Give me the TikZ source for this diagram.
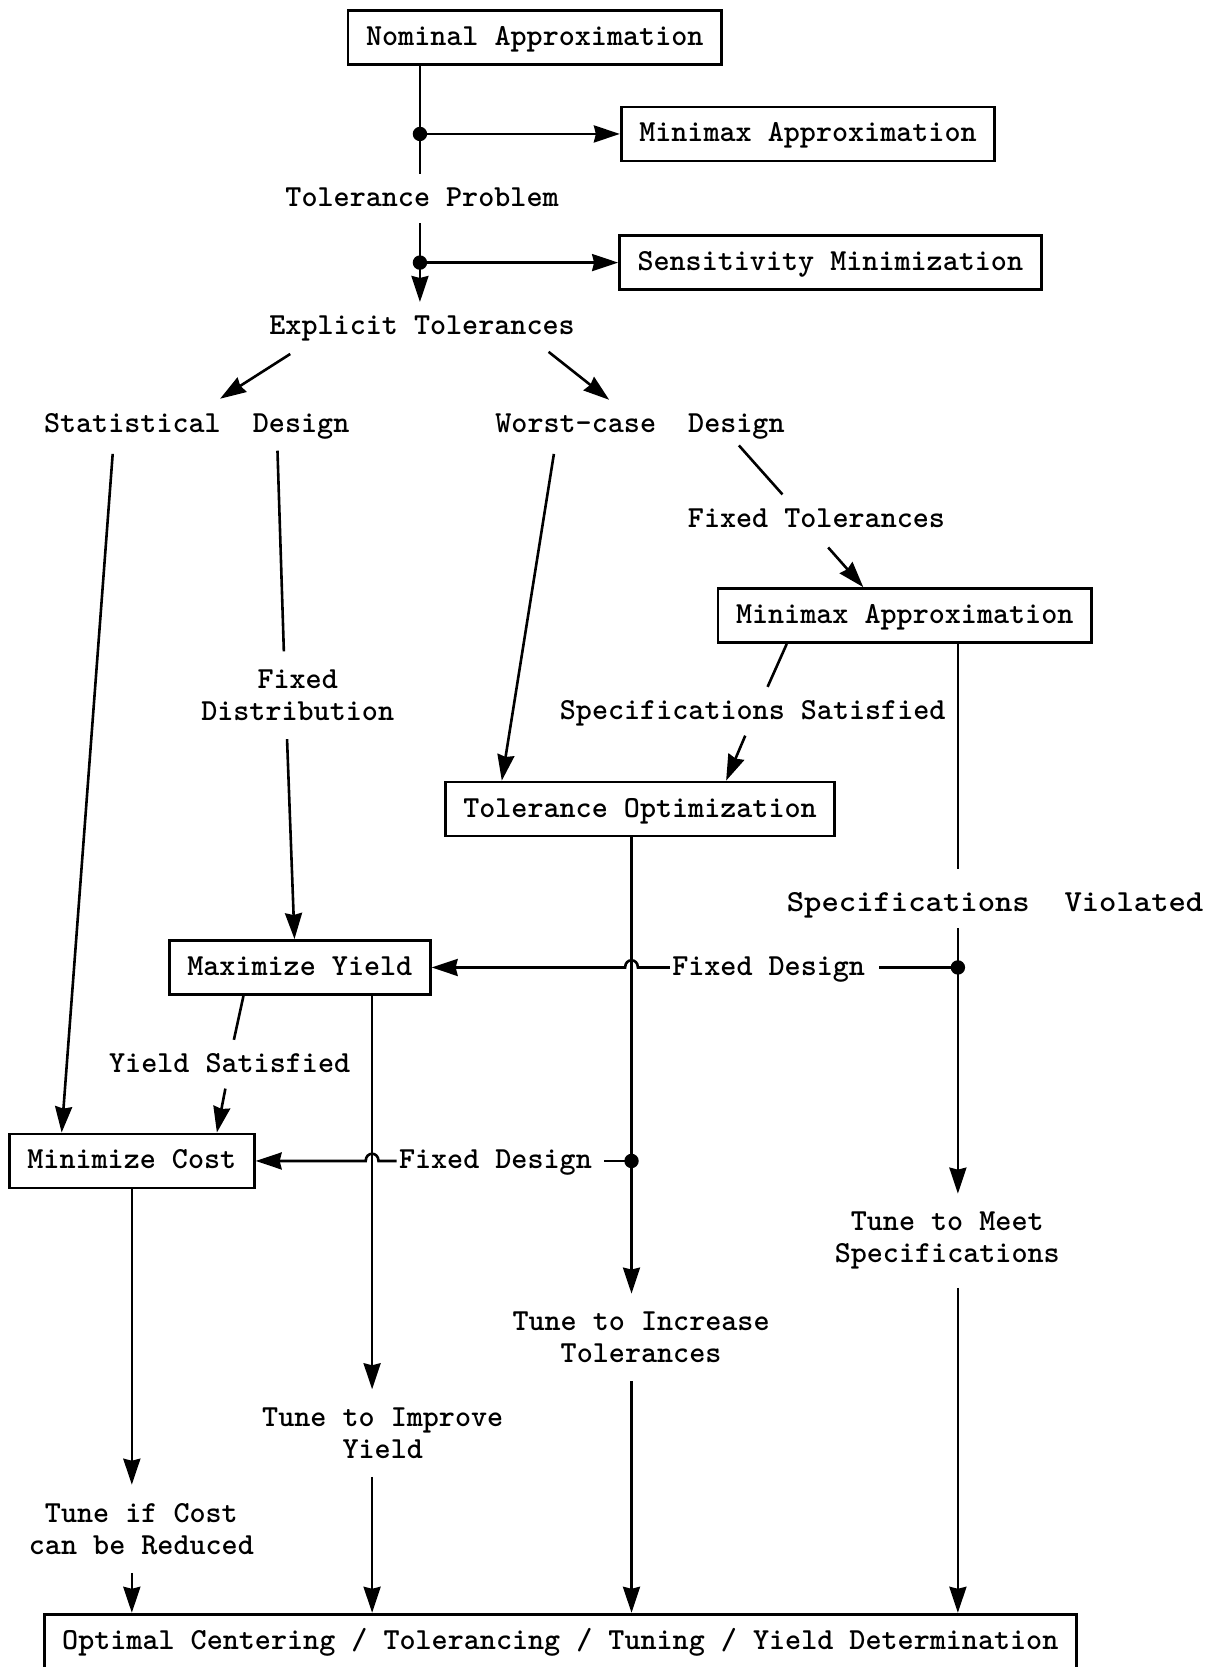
\documentclass[tikz,border=0pt]{standalone}
\usepackage{fontspec}
\newfontfamily\twfont{lmmonolt10-bold}[Extension=.otf]
\usetikzlibrary{arrows.meta,calc}

\tikzset{
	twtext/.style={font=\twfont\fontsize{15.3}{16}\selectfont},
	lbl/.style={twtext, inner xsep=5pt, inner ysep=6pt, text height=10pt, text depth=2pt},
	lbltwo/.style={twtext, align=center, inner xsep=4pt, inner ysep=9pt},
	box/.style={twtext, draw, line width=1.4pt, inner xsep=9pt, inner ysep=7.5pt, text height=10pt, text depth=2pt},
	link/.style={line width=1.3pt},
	arr/.style={link, -{Stealth[length=13pt,width=8.5pt,inset=1pt]}},
}

\begin{document}
\begin{tikzpicture}[x=0.5315pt, y=-0.5315pt]
	%%%%% START %%%%%
	\useasboundingbox (0,0) rectangle (1144,1568);
	\clip (0,0) rectangle (1144,1568);
	
	%%%%% boxes
	\node[box] (nominal) at (503,35) {Nominal Approximation};
	\node[box] (mmxA) at (760,126) {Minimax Approximation};
	\node[box] (sens) at (781,247) {Sensitivity Minimization};
	\node[box] (mmxB) at (851,579) {Minimax Approximation};
	\node[box] (tolopt) at (602,761) {Tolerance Optimization};
	\node[box] (maxyield) at (282,910) {Maximize Yield};
	\node[box] (mincost) at (124,1092) {Minimize Cost};
	\node[box, text depth=24pt, anchor=north] (final) at (527,1517) {Optimal Centering / Tolerancing / Tuning / Yield Determination};
	
	%%%%% labels
	\node[lbl] (tolprob) at (397,187) {Tolerance Problem};
	\node[lbl] (expl) at (397,307) {Explicit Tolerances};
	\node[lbl] (stat) at (185,399) {Statistical\ \ Design};
	\node[lbl] (worst) at (602,399) {Worst-case\ \ Design};
	\node[lbl] (fixtol) at (768,489) {Fixed Tolerances};
	\node[lbltwo] (fixdist) at (280,654) {Fixed\\Distribution};
	\node[lbl] (specsat) at (708,669) {Specifications Satisfied};
	\node[lbl] (specviol) at (936,850) {\scalebox{1.08}[1]{Specifications\ \ Violated}};
	\node[lbl, inner xsep=1pt] (fixdesA) at (723,910) {Fixed Design};
	\node[lbl] (yieldsat) at (216,1001) {Yield Satisfied};
	\node[lbl, inner xsep=1pt] (fixdesB) at (466,1092) {Fixed Design};
	\node[lbltwo] (tunemeet) at (891,1167) {Tune to Meet\\Specifications};
	\node[lbltwo] (tuneinc) at (603,1258) {Tune to Increase\\Tolerances};
	\node[lbltwo] (tuneimp) at (360,1348) {Tune to Improve\\Yield};
	\node[lbltwo] (tuneif) at (133,1438) {Tune if Cost\\can be Reduced};
	
	%%%%% junctions and hops
	\coordinate (dA) at (395,126);
	\coordinate (dB) at (395,247);
	\coordinate (dS) at (901,910);
	\coordinate (dT) at (594,1092);
	\coordinate (hA) at (594,910);
	\coordinate (hB) at (350,1092);
	
	%%%%% top spine
	\draw[link] (dA |- nominal.south) -- (dA |- tolprob.north);
	\draw[arr] (dA) -- (mmxA.west);
	\draw[arr] (dB |- tolprob.south) -- (dB |- expl.north);
	\draw[arr] (dB) -- (sens.west);
	\fill (dA) circle[radius=3.6pt];
	\fill (dB) circle[radius=3.6pt];
	
	\draw[arr] ($(expl.south)+(-124,3)$) -- ($(stat.north)+(22,-1)$);
	\draw[arr] ($(expl.south)+(119,1)$) -- ($(worst.north)+(-29,0)$);
	
	%%%%% statistical side
	\draw[arr] ($(stat.south)+(-79,5)$) -- ($(mincost.north)+(-66,0)$);
	\draw[link] ($(stat.south)+(76,2)$) -- ($(fixdist.north)+(-13,0)$);
	\draw[arr] ($(fixdist.south)+(-10,0)$) -- ($(maxyield.north)+(-5,0)$);
	\draw[link] ($(maxyield.south)+(-53,0)$) -- ($(yieldsat.north)+(4,0)$);
	\draw[arr] ($(yieldsat.south)+(-4,0)$) -- ($(mincost.north)+(80,0)$);
	
	%%%%% worst-case side
	\draw[arr] ($(worst.south)+(-81,5)$) -- ($(tolopt.north)+(-130,0)$);
	\draw[link] ($(worst.south)+(93,-3)$) -- ($(fixtol.north)+(-32,-1)$);
	\draw[arr] ($(fixtol.south)+(11,3)$) -- ($(mmxB.north)+(-39,0)$);
	\draw[link] ($(mmxB.south)+(-111,0)$) -- ($(specsat.north)+(14,0)$);
	\draw[arr] ($(specsat.south)+(-7,0)$) -- ($(tolopt.north)+(81,0)$);
	
	\draw[link, shorten >=5pt] (dS |- mmxB.south) -- (dS |- specviol.north);
	\draw[arr] (dS |- specviol.south) -- (dS |- tunemeet.north);
	\fill (dS) circle[radius=3.6pt];
	\draw[link, shorten >=6pt] (dS) -- (fixdesA.east);
	\draw[arr] (fixdesA.west) -- ($(hA)+(6,0)$) .. controls ($(hA)+(6,-9)$) and ($(hA)+(-6,-9)$) .. ($(hA)+(-6,0)$) -- (maxyield.east);
	
	\draw[arr] (dT |- tolopt.south) -- (dT |- tuneinc.north);
	\fill (dT) circle[radius=3.6pt];
	\draw[link, shorten >=5pt] (dT) -- (fixdesB.east);
	\draw[arr] (fixdesB.west) -- ($(hB)+(6,0)$) .. controls ($(hB)+(6,-9)$) and ($(hB)+(-6,-9)$) .. ($(hB)+(-6,0)$) -- (mincost.east);
	
	%%%%% tuning column
	\draw[arr] (hB |- maxyield.south) -- (hB |- tuneimp.north);
	\draw[arr] (mincost.south) -- (mincost.south |- tuneif.north);
	
	\draw[arr] (mincost.south |- tuneif.south) -- (mincost.south |- final.north);
	\draw[arr] (hB |- tuneimp.south) -- (hB |- final.north);
	\draw[arr] (dT |- tuneinc.south) -- (dT |- final.north);
	\draw[arr] (dS |- tunemeet.south) -- (dS |- final.north);
	%%%%% END %%%%%
\end{tikzpicture}
\end{document}
